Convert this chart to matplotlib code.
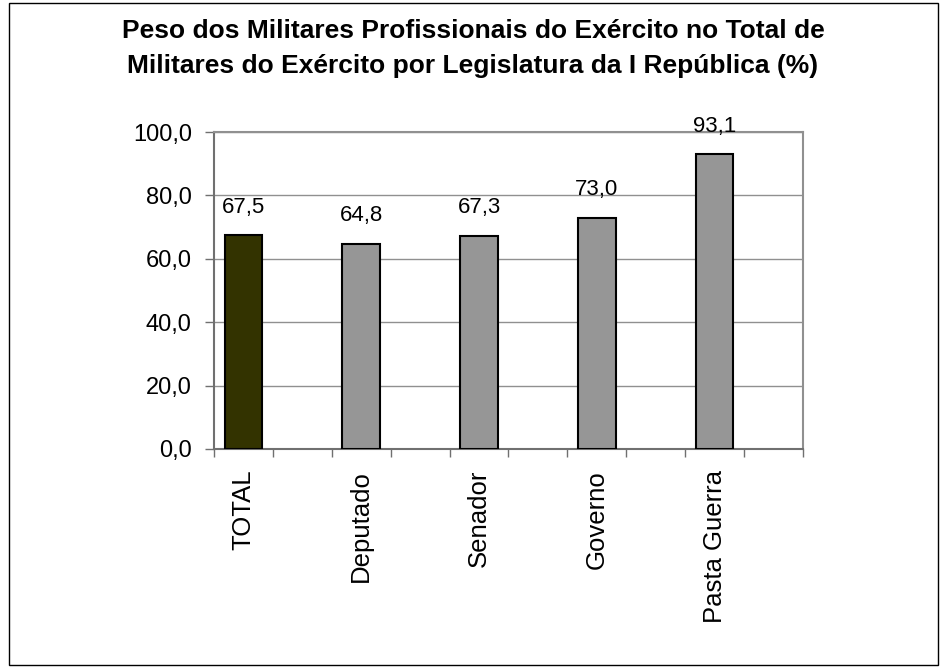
import matplotlib
matplotlib.use("Agg")
import matplotlib.pyplot as plt
from matplotlib.patches import Rectangle

plt.rcParams['font.family'] = ['Liberation Sans', 'DejaVu Sans']

title_lines = ["Peso dos Militares Profissionais do Exército no Total de",
               "Militares do Exército por Legislatura da I República (%)"]
categories = ["TOTAL", "Deputado", "Senador", "Governo", "Pasta Guerra"]
values = [67.5, 64.8, 67.3, 73.0, 93.1]
bar_colors = ["#333300", "#969696", "#969696", "#969696", "#969696"]
yticks = [0, 20, 40, 60, 80, 100]

W, H = 944, 667
fig = plt.figure(figsize=(W/100, H/100), dpi=100)
fig.patch.set_facecolor("white")

# outer frame
fig.add_artist(Rectangle((9/W, 2/H), (938-9)/W, (664-2)/H, transform=fig.transFigure,
                         fill=False, edgecolor="black", linewidth=1.0))

fig.text(473/W, 1-29/H, title_lines[0], ha="center", va="center_baseline", fontsize=19, fontweight="bold")
fig.text(473/W, 1-64/H, title_lines[1], ha="center", va="center_baseline", fontsize=19, fontweight="bold")

left, right, top, bottom = 214, 803, 132, 449
ax = fig.add_axes([left/W, 1-bottom/H, (right-left)/W, (bottom-top)/H])

nslots = 2*len(categories)
xpos = [2*i + 0.5 for i in range(len(categories))]
bars = ax.bar(xpos, values, width=0.64, color=bar_colors, edgecolor="black", linewidth=1.5, zorder=3)

for x, v in zip(xpos, values):
    ax.annotate(f"{v:.1f}".replace(".", ","), (x, v), xytext=(0, 16), textcoords="offset points",
                ha="center", va="baseline", fontsize=16)

ax.set_xlim(0, nslots)
ax.set_ylim(0, 100)
ax.set_yticks(yticks)
ax.set_yticklabels([f"{t:.1f}".replace(".", ",") for t in yticks], fontsize=17)
ax.yaxis.grid(True, color="#909090", linewidth=1.0, zorder=0)
ax.set_axisbelow(True)

ax.set_xticks(range(nslots + 1))
ax.set_xticklabels([])
ax.set_xticks(xpos, minor=True)
ax.set_xticklabels(categories, minor=True, rotation=90, fontsize=18.5, va="top", ha="center")
ax.tick_params(axis="x", which="minor", length=0, pad=15)
ax.tick_params(axis="x", which="major", length=5.5, color="#707070", width=1)
ax.tick_params(axis="y", length=6.5, color="#707070", width=1, pad=9.5)

for s in ["top", "right"]:
    ax.spines[s].set_color("#909090")
    ax.spines[s].set_linewidth(1.5)
for s in ["left", "bottom"]:
    ax.spines[s].set_color("#707070")
    ax.spines[s].set_linewidth(1.5)

fig.savefig("out.png", dpi=100)
